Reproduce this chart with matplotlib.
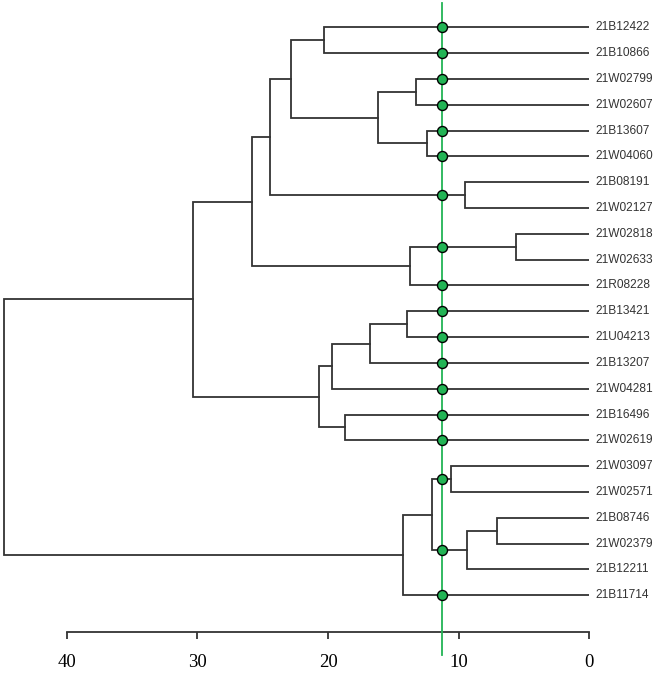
import matplotlib
matplotlib.use("Agg")
import matplotlib.pyplot as plt

# leaf labels, top to bottom
labels = [
    "21B12422", "21B10866", "21W02799", "21W02607", "21B13607", "21W04060",
    "21B08191", "21W02127", "21W02818", "21W02633", "21R08228", "21B13421",
    "21U04213", "21B13207", "21W04281", "21B16496", "21W02619", "21W03097",
    "21W02571", "21B08746", "21W02379", "21B12211", "21B11714",
]

# merges in linkage style: new cluster ids start at len(labels)
merge_left = [0, 2, 4, 24, 23, 6, 27, 8, 30, 29, 11, 33, 34, 15, 35, 32, 17, 19, 40, 39, 42, 38]
merge_right = [1, 3, 5, 25, 26, 7, 28, 9, 10, 31, 12, 13, 14, 16, 36, 37, 18, 20, 21, 41, 22, 43]
merge_height = [20.29, 13.30, 12.40, 16.17, 22.87, 9.53, 24.48, 5.60, 13.69, 25.83,
                13.98, 16.81, 19.68, 18.71, 20.68, 30.37, 10.56, 7.09, 9.34, 12.08,
                14.30, 44.83]

cut_height = 11.3
xticks = [40, 30, 20, 10, 0]

line_col = "#333333"
green = "#22b455"

n = len(labels)
ypos = {i: float(i) for i in range(n)}
hpos = {i: 0.0 for i in range(n)}
parent_h = {}
for k, (a, b, h) in enumerate(zip(merge_left, merge_right, merge_height)):
    cid = n + k
    ypos[cid] = (ypos[a] + ypos[b]) / 2
    hpos[cid] = h
    parent_h[a] = h
    parent_h[b] = h

fig = plt.figure(figsize=(6.6, 6.73), dpi=100)
ax = fig.add_axes([0, 0.0614, 589.3 / 660, 0.9386])

for k, (a, b, h) in enumerate(zip(merge_left, merge_right, merge_height)):
    ax.plot([hpos[a], h, h, hpos[b]], [ypos[a], ypos[a], ypos[b], ypos[b]],
            color=line_col, lw=1.3, solid_joinstyle="miter", zorder=2)

# cut line and the clusters it crosses
ax.plot([cut_height, cut_height], [-0.95, 24.31], color=green, lw=1.3,
        clip_on=False, zorder=3)
for node, ph in parent_h.items():
    if hpos[node] < cut_height < ph:
        ax.plot(cut_height, ypos[node], "o", ms=7.2, mfc=green, mec="black",
                mew=1.0, zorder=4)

for i, lab in enumerate(labels):
    ax.text(-0.48, i, lab, ha="left", va="center", fontsize=8.6,
            family="Liberation Sans", color="#333333", clip_on=False)

ax.set_xlim(45.12, 0)
ax.set_ylim(23.41, -1.057)
for s in ["top", "left", "right"]:
    ax.spines[s].set_visible(False)
ax.spines["bottom"].set_bounds(40, 0)
ax.spines["bottom"].set_color(line_col)
ax.spines["bottom"].set_linewidth(1.3)
ax.set_yticks([])
ax.set_xticks(xticks)
ax.set_xticklabels([str(t) for t in xticks], family="Liberation Serif",
                   fontsize=13.5)
ax.tick_params(axis="x", direction="out", length=5, width=1.3, color=line_col,
               pad=11)
ax.patch.set_alpha(0)

fig.savefig("out.png", dpi=100)
